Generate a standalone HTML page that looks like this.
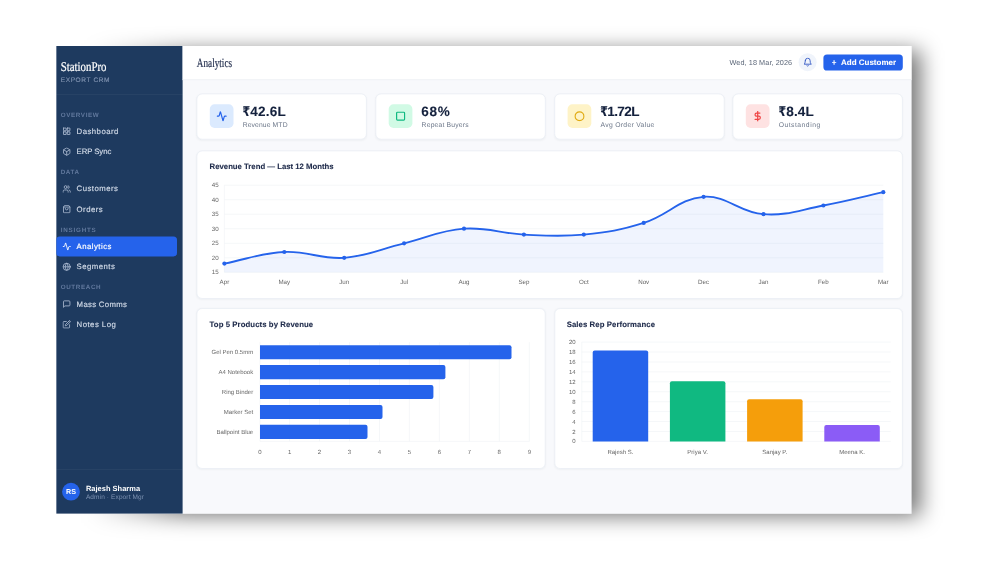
<!DOCTYPE html>
<html lang="en">
<head>
<meta charset="utf-8">
<title>StationPro Export CRM - Analytics</title>
<style>
/* Layout is authored at 10x (1 unit = 0.1 screen px) and scaled down, so hairlines and
   sub-pixel positions come out as soft as in the reference screenshot. */
html,body{margin:0;padding:0;background:#fff;}
body{width:1000px;height:563px;overflow:hidden;position:relative;font-family:"Liberation Sans","DejaVu Sans",sans-serif;text-rendering:geometricPrecision;-webkit-font-smoothing:antialiased;}
#stage{position:absolute;left:0;top:0;width:10000px;height:5630px;transform:scale(0.1);transform-origin:0 0;}
#stage *{box-sizing:border-box;}
.shadow{position:absolute;left:900px;top:505px;width:8305px;height:4655px;background:linear-gradient(to right,rgba(0,0,0,0) 0,rgba(0,0,0,.22) 420px,rgba(0,0,0,.55) 950px);filter:blur(105px);}
.app{position:absolute;left:562px;top:460px;width:8554px;height:4678px;background:#f8f9fc;overflow:hidden;}

/* ---------- sidebar ---------- */
.sidebar{position:absolute;left:0;top:0;width:1264px;height:100%;background:#1e3a5f;color:#cbd5e1;}
.brand{position:absolute;left:45px;top:0;}
.brand .name{position:absolute;left:0;top:138px;font-family:"Liberation Serif",serif;font-size:134px;line-height:140px;color:#fff;-webkit-text-stroke:2px #fff;white-space:nowrap;transform:scaleX(.81);transform-origin:0 50%;}
.brand .sub{position:absolute;left:0;top:300px;font-size:66px;line-height:70px;letter-spacing:5.7px;color:#8294b2;-webkit-text-stroke:1.2px #8294b2;white-space:nowrap;}
.sdiv{position:absolute;left:0;width:100%;height:6px;background:rgba(255,255,255,.08);}
.nav{position:absolute;left:0;top:493px;width:100%;}
.nlabel{height:171px;padding:71px 0 0 45px;font-size:63px;line-height:60px;letter-spacing:6px;color:#61789d;font-weight:bold;white-space:nowrap;}
.nlabel.first{height:0;padding:0;position:absolute;left:45px;top:161px;}
.nitem{display:flex;align-items:center;height:198px;margin:0 56px 4.5px 0;padding-left:64px;border-radius:35px;font-size:78px;color:#cfd8e6;white-space:nowrap;}
.nitem svg{width:86px;height:86px;flex:none;margin:0 56px 0 -2px;stroke:#a9b8cf;fill:none;stroke-width:2.4;stroke-linecap:round;stroke-linejoin:round;}
.nitem span{display:block;letter-spacing:4.5px;padding-bottom:6px;-webkit-text-stroke:1.7px currentColor;}
.nitem.active{background:#2563eb;color:#fff;}
.nitem.active svg{stroke:#fff;}
.user{position:absolute;left:0;top:4231px;width:100%;height:445px;}
.avatar{position:absolute;left:59px;top:137px;width:178px;height:178px;border-radius:50%;background:#2563eb;color:#fff;font-weight:bold;font-size:72px;line-height:180px;text-align:center;letter-spacing:1px;}
.uname{position:absolute;left:297px;top:145px;font-size:75px;line-height:90px;font-weight:bold;color:#fff;white-space:nowrap;}
.urole{position:absolute;left:297px;top:236px;font-size:65px;line-height:80px;letter-spacing:1.2px;color:#7f93b3;white-space:nowrap;}

/* ---------- main ---------- */
.main{position:absolute;left:1264px;top:0;right:0;height:100%;}
.topbar{position:absolute;left:0;top:0;width:100%;height:341px;background:#fff;border-bottom:6px solid #e5e9f0;}
.ptitle{position:absolute;left:142px;top:96px;font-family:"Liberation Serif",serif;font-size:127px;line-height:140px;color:#1e2a4a;-webkit-text-stroke:1.8px #1e2a4a;white-space:nowrap;transform:scaleX(.725);transform-origin:0 50%;}
.date{position:absolute;right:1194px;top:121px;font-size:73px;line-height:80px;letter-spacing:.7px;color:#5b6678;white-space:nowrap;}
.bell{position:absolute;left:6160px;top:72px;width:180px;height:180px;border-radius:50%;background:#f0f4fb;}
.bell svg{position:absolute;left:43px;top:42px;width:96px;height:96px;stroke:#3459c4;fill:none;stroke-width:2.3;stroke-linecap:round;stroke-linejoin:round;}
.btn{position:absolute;left:6408px;top:84px;width:794px;height:161px;border-radius:36px;background:#2563eb;color:#fff;font-weight:bold;font-size:80px;line-height:158px;letter-spacing:0;-webkit-text-stroke:.8px #fff;text-align:center;white-space:nowrap;padding-left:16px;}
.btn .plus{margin-right:46px;}

.card{position:absolute;background:#fff;border:6px solid #e4e9f1;border-radius:56px;box-shadow:0 6px 18px rgba(30,41,59,.04);}
.stat{top:476px;width:1701px;height:459px;}
.ibox{position:absolute;left:126px;top:101px;width:237px;height:237px;border-radius:48px;}
.ibox svg{position:absolute;left:66px;top:66px;width:106px;height:106px;fill:none;stroke-width:2.7;stroke-linecap:round;stroke-linejoin:round;}
.sval{position:absolute;left:452px;top:100px;font-size:136px;line-height:140px;font-weight:bold;color:#14213d;-webkit-text-stroke:1px #14213d;white-space:nowrap;letter-spacing:1.5px;}
.rs{display:inline-block;transform:scaleX(.8);transform-origin:0 50%;margin-right:-19px;}
.slab{position:absolute;left:455px;top:260px;font-size:68px;line-height:80px;color:#6b7688;white-space:nowrap;letter-spacing:1.4px;}
.ctitle{position:absolute;left:124px;top:100px;font-size:78px;line-height:100px;font-weight:bold;color:#1e2a4a;-webkit-text-stroke:1px #1e2a4a;letter-spacing:-.3px;white-space:nowrap;}
.card svg.chart{position:absolute;left:-6px;top:-6px;}
.chart text{font-family:"Liberation Sans",sans-serif;font-size:6.2px;fill:#666;}
.chart.small text{font-size:6px;}
</style>
</head>
<body>
<div id="stage">
  <div class="shadow"></div>
  <div class="app">

    <aside class="sidebar">
      <div class="brand">
        <div class="name">StationPro</div>
        <div class="sub">EXPORT CRM</div>
      </div>
      <div class="sdiv" style="top:481px"></div>
      <nav class="nav">
        <div class="nlabel first">OVERVIEW</div>
        <div style="height:261px"></div>
        <div class="nitem"><svg viewBox="0 0 24 24"><rect x="3" y="3" width="7.5" height="7.5" rx=".4"/><rect x="13.5" y="3" width="7.5" height="7.5" rx=".4"/><rect x="13.5" y="13.500" width="7.5" height="7.5" rx=".4"/><rect x="3" y="13.500" width="7.5" height="7.5" rx=".4"/></svg><span>Dashboard</span></div>
        <div class="nitem"><svg viewBox="0 0 24 24"><path d="M21 8a2 2 0 0 0-1-1.73l-7-4a2 2 0 0 0-2 0l-7 4A2 2 0 0 0 3 8v8a2 2 0 0 0 1 1.73l7 4a2 2 0 0 0 2 0l7-4A2 2 0 0 0 21 16Z"/><path d="m3.3 7 8.7 5 8.7-5"/><path d="M12 22V12"/></svg><span style="letter-spacing:-1px">ERP Sync</span></div>
        <div class="nlabel">DATA</div>
        <div class="nitem"><svg viewBox="0 0 24 24"><path d="M16 21v-2a4 4 0 0 0-4-4H6a4 4 0 0 0-4 4v2"/><circle cx="9" cy="7" r="4"/><path d="M22 21v-2a4 4 0 0 0-3-3.87"/><path d="M16 3.13a4 4 0 0 1 0 7.75"/></svg><span>Customers</span></div>
        <div class="nitem"><svg viewBox="0 0 24 24"><path d="M6 2 3 6v14a2 2 0 0 0 2 2h14a2 2 0 0 0 2-2V6l-3-4Z"/><path d="M3 6h18"/><path d="M16 10a4 4 0 0 1-8 0"/></svg><span>Orders</span></div>
        <div class="nlabel" style="letter-spacing:7.6px">INSIGHTS</div>
        <div class="nitem active"><svg viewBox="0 0 24 24"><path d="M22 12h-2.480a2 2 0 0 0-1.930 1.460l-2.350 8.360a.25.25 0 0 1-.48 0L9.240 2.180a.25.25 0 0 0-.48 0l-2.350 8.360A2 2 0 0 1 4.490 12H2"/></svg><span>Analytics</span></div>
        <div class="nitem"><svg viewBox="0 0 24 24"><circle cx="12" cy="12" r="10"/><path d="M2 12h20"/><path d="M12 2a15.3 15.3 0 0 1 4 10 15.3 15.3 0 0 1-4 10 15.3 15.3 0 0 1-4-10 15.3 15.3 0 0 1 4-10z"/></svg><span>Segments</span></div>
        <div class="nlabel">OUTREACH</div>
        <div class="nitem"><svg viewBox="0 0 24 24"><path d="M21 15a2 2 0 0 1-2 2H7l-4 4V5a2 2 0 0 1 2-2h14a2 2 0 0 1 2 2z"/></svg><span style="letter-spacing:2.9px">Mass Comms</span></div>
        <div class="nitem"><svg viewBox="0 0 24 24"><path d="M11 4H4a2 2 0 0 0-2 2v14a2 2 0 0 0 2 2h14a2 2 0 0 0 2-2v-7"/><path d="M18.5 2.5a2.121 2.121 0 0 1 3 3L12 15l-4 1 1-4 9.5-9.5z"/></svg><span>Notes Log</span></div>
      </nav>
      <div class="user">
        <div class="sdiv" style="top:0"></div>
        <div class="avatar">RS</div>
        <div class="uname">Rajesh Sharma</div>
        <div class="urole">Admin · Export Mgr</div>
      </div>
    </aside>

    <main class="main">
      <header class="topbar">
        <div class="ptitle">Analytics</div>
        <div class="date">Wed, 18 Mar, 2026</div>
        <div class="bell"><svg viewBox="0 0 24 24"><path d="M6 8a6 6 0 0 1 12 0c0 7 3 9 3 9H3s3-2 3-9"/><path d="M10.3 21a1.94 1.94 0 0 0 3.4 0"/></svg></div>
        <div class="btn"><span class="plus">+</span>Add Customer</div>
      </header>

      <!-- stat cards -->
      <section class="card stat" style="left:140px">
        <div class="ibox" style="background:#dbeafe"><svg viewBox="0 0 24 24" stroke="#2563eb"><path d="M22 12h-2.480a2 2 0 0 0-1.930 1.460l-2.350 8.360a.25.25 0 0 1-.48 0L9.240 2.180a.25.25 0 0 0-.48 0l-2.350 8.360A2 2 0 0 1 4.490 12H2"/></svg></div>
        <div class="sval" style="letter-spacing:2px"><span class="rs">₹</span>42.6L</div><div class="slab" style="letter-spacing:1px">Revenue MTD</div>
      </section>
      <section class="card stat" style="left:1929px">
        <div class="ibox" style="background:#d1fae5"><svg viewBox="0 0 24 24" stroke="#10b981"><rect x="3" y="3" width="18" height="18" rx="2"/></svg></div>
        <div class="sval" style="letter-spacing:6px">68%</div><div class="slab" style="letter-spacing:1.7px">Repeat Buyers</div>
      </section>
      <section class="card stat" style="left:3718px">
        <div class="ibox" style="background:#fef3c7"><svg viewBox="0 0 24 24" stroke="#e0aa12"><circle cx="12" cy="12" r="10"/></svg></div>
        <div class="sval" style="letter-spacing:-5.8px"><span class="rs">₹</span>1.72L</div><div class="slab" style="letter-spacing:3px">Avg Order Value</div>
      </section>
      <section class="card stat" style="left:5500px;width:1701px">
        <div class="ibox" style="background:#fee2e2"><svg viewBox="0 0 24 24" stroke="#ef4444"><path d="M12 1v22"/><path d="M17 5H9.500a3.500 3.500 0 0 0 0 7h5a3.500 3.500 0 0 1 0 7H6"/></svg></div>
        <div class="sval" style="letter-spacing:1.8px"><span class="rs">₹</span>8.4L</div><div class="slab" style="letter-spacing:4.8px">Outstanding</div>
      </section>

      <!-- revenue trend -->
      <section class="card" style="left:140px;top:1046px;width:7061px;height:1482px">
        <div class="ctitle">Revenue Trend — Last 12 Months</div>
        <svg class="chart" width="7068" height="1480" viewBox="196.6 150.5 706.8 148">
          <g stroke="#eff1f5" stroke-width=".6">
            <path d="M224.4 185.1H883.3M224.4 199.6H883.3M224.4 214.1H883.3M224.4 228.6H883.3M224.4 243.2H883.3M224.4 257.7H883.3M224.4 272.2H883.3"/>
            <path d="M224.4 185.1V272.2"/>
          </g>
          <path fill="rgba(37,99,235,.07)" d="M224.4 263.5 C248.4 258.8 260.2 253.0 284.3 251.9 C308.1 250.7 320.5 259.4 344.2 257.7 C368.4 255.9 380.1 249.0 404.1 243.2 C428.1 237.4 439.8 230.4 464.0 228.6 C487.7 226.9 499.9 233.3 523.9 234.5 C547.8 235.6 560.1 236.8 583.8 234.5 C608.0 232.1 620.6 230.1 643.7 222.8 C668.5 215.0 679.1 198.5 703.6 196.7 C727.0 195.0 739.2 212.4 763.5 214.1 C787.1 215.8 799.6 209.8 823.4 205.4 C847.5 201.0 859.3 197.4 883.3 192.1 L883.3 272.2 L224.4 272.2 Z"/>
          <path fill="none" stroke="#2563eb" stroke-width="1.85" stroke-linejoin="round" stroke-linecap="round" d="M224.4 263.5 C248.4 258.8 260.2 253.0 284.3 251.9 C308.1 250.7 320.5 259.4 344.2 257.7 C368.4 255.9 380.1 249.0 404.1 243.2 C428.1 237.4 439.8 230.4 464.0 228.6 C487.7 226.9 499.9 233.3 523.9 234.5 C547.8 235.6 560.1 236.8 583.8 234.5 C608.0 232.1 620.6 230.1 643.7 222.8 C668.5 215.0 679.1 198.5 703.6 196.7 C727.0 195.0 739.2 212.4 763.5 214.1 C787.1 215.8 799.6 209.8 823.4 205.4 C847.5 201.0 859.3 197.4 883.3 192.1"/>
          <g fill="#2563eb"><circle cx="224.4" cy="263.5" r="2.1"/><circle cx="284.3" cy="251.9" r="2.1"/><circle cx="344.2" cy="257.7" r="2.1"/><circle cx="404.1" cy="243.2" r="2.1"/><circle cx="464.0" cy="228.6" r="2.1"/><circle cx="523.9" cy="234.5" r="2.1"/><circle cx="583.8" cy="234.5" r="2.1"/><circle cx="643.7" cy="222.8" r="2.1"/><circle cx="703.6" cy="196.7" r="2.1"/><circle cx="763.5" cy="214.1" r="2.1"/><circle cx="823.4" cy="205.4" r="2.1"/><circle cx="883.3" cy="192.1" r="2.1"/></g>
          <g text-anchor="end"><text x="218.6" y="187.3">45</text><text x="218.6" y="201.8">40</text><text x="218.6" y="216.3">35</text><text x="218.6" y="230.8">30</text><text x="218.6" y="245.4">25</text><text x="218.6" y="259.9">20</text><text x="218.6" y="274.4">15</text></g>
          <g text-anchor="middle"><text x="224.4" y="284.3">Apr</text><text x="284.3" y="284.3">May</text><text x="344.2" y="284.3">Jun</text><text x="404.1" y="284.3">Jul</text><text x="464" y="284.3">Aug</text><text x="523.9" y="284.3">Sep</text><text x="583.8" y="284.3">Oct</text><text x="643.7" y="284.3">Nov</text><text x="703.6" y="284.3">Dec</text><text x="763.5" y="284.3">Jan</text><text x="823.4" y="284.3">Feb</text><text x="883.3" y="284.3">Mar</text></g>
        </svg>
      </section>

      <!-- top products -->
      <section class="card" style="left:140px;top:2622px;width:3489px;height:1606px">
        <div class="ctitle" style="letter-spacing:.6px">Top 5 Products by Revenue</div>
        <svg class="chart small" width="3489" height="1602" viewBox="196.6 308.1 348.9 160.2">
          <g stroke="#eff1f5" stroke-width=".6">
            <path d="M260 342V441.3M289.6 342V441.3M319.5 342V441.3M349.5 342V441.3M379.5 342V441.3M409.4 342V441.3M439.4 342V441.3M469.4 342V441.3M499.3 342V441.3M529.3 342V441.3"/>
            <path d="M260 441.3H529.3"/>
          </g>
          <g fill="#2563eb">
            <path d="M260 345.1H509.5a2 2 0 0 1 2 2V357.2a2 2 0 0 1-2 2H260Z"/>
            <path d="M260 365H443.4a2 2 0 0 1 2 2V377.1a2 2 0 0 1-2 2H260Z"/>
            <path d="M260 384.9H431.4a2 2 0 0 1 2 2V397a2 2 0 0 1-2 2H260Z"/>
            <path d="M260 404.8H380.5a2 2 0 0 1 2 2V416.9a2 2 0 0 1-2 2H260Z"/>
            <path d="M260 424.7H365.5a2 2 0 0 1 2 2V436.8a2 2 0 0 1-2 2H260Z"/>
          </g>
          <g text-anchor="end"><text x="253.2" y="354.3">Gel Pen 0.5mm</text><text x="253.2" y="374.2">A4 Notebook</text><text x="253.2" y="394.1">Ring Binder</text><text x="253.2" y="414">Marker Set</text><text x="253.2" y="433.9">Ballpoint Blue</text></g>
          <g text-anchor="middle"><text x="260" y="453.9">0</text><text x="289.6" y="453.9">1</text><text x="319.5" y="453.9">2</text><text x="349.5" y="453.9">3</text><text x="379.5" y="453.9">4</text><text x="409.4" y="453.9">5</text><text x="439.4" y="453.9">6</text><text x="469.4" y="453.9">7</text><text x="499.3" y="453.9">8</text><text x="529.3" y="453.9">9</text></g>
        </svg>
      </section>

      <!-- sales reps -->
      <section class="card" style="left:3719px;top:2622px;width:3482px;height:1606px">
        <div class="ctitle" style="left:116px;letter-spacing:.6px">Sales Rep Performance</div>
        <svg class="chart small" width="3489" height="1602" viewBox="554.5 308.1 348.9 160.2">
          <g stroke="#eff1f5" stroke-width=".6">
            <path d="M581.8 342.0H890.7M581.8 351.9H890.7M581.8 361.9H890.7M581.8 371.8H890.7M581.8 381.7H890.7M581.8 391.6H890.7M581.8 401.6H890.7M581.8 411.5H890.7M581.8 421.4H890.7M581.8 431.4H890.7M581.8 441.3H890.7"/>
            <path d="M581.8 342V441.3"/>
          </g>
          <path fill="#2563eb" d="M592.7 441.3V352.4a2 2 0 0 1 2-2H646.2a2 2 0 0 1 2 2V441.3Z"/>
          <path fill="#10b981" d="M669.9 441.3V383.2a2 2 0 0 1 2-2H723.4a2 2 0 0 1 2 2V441.3Z"/>
          <path fill="#f59e0b" d="M747.1 441.3V401.1a2 2 0 0 1 2-2H800.6a2 2 0 0 1 2 2V441.3Z"/>
          <path fill="#8b5cf6" d="M824.3 441.3V426.9a2 2 0 0 1 2-2H877.8a2 2 0 0 1 2 2V441.3Z"/>
          <g text-anchor="end"><text x="575.6" y="344.1">20</text><text x="575.6" y="354.1">18</text><text x="575.6" y="364.0">16</text><text x="575.6" y="373.9">14</text><text x="575.6" y="383.9">12</text><text x="575.6" y="393.8">10</text><text x="575.6" y="403.7">8</text><text x="575.6" y="413.7">6</text><text x="575.6" y="423.6">4</text><text x="575.6" y="433.5">2</text><text x="575.6" y="443.4">0</text></g>
          <g text-anchor="middle"><text x="620.4" y="453.8">Rajesh S.</text><text x="697.6" y="453.8">Priya V.</text><text x="774.8" y="453.8">Sanjay P.</text><text x="852" y="453.8">Meena K.</text></g>
        </svg>
      </section>
    </main>
  </div>
</div>
</body>
</html>
